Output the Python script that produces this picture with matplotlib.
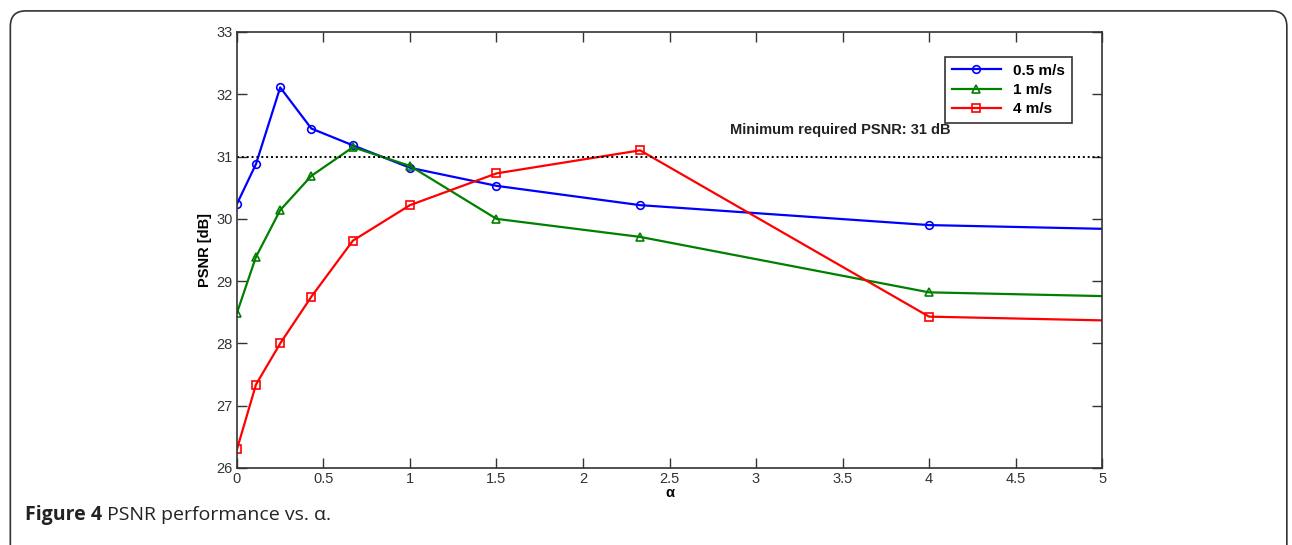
import matplotlib
matplotlib.use("Agg")
import matplotlib.pyplot as plt
from matplotlib.patches import FancyBboxPatch

# alpha values and PSNR for each speed
alpha = [0, 0.11, 0.25, 0.43, 0.67, 1.0, 1.5, 2.33, 4.0, 5.0]
psnr_05 = [30.24, 30.88, 32.11, 31.45, 31.18, 30.82, 30.53, 30.22, 29.90, 29.84]
psnr_1 = [28.49, 29.39, 30.14, 30.69, 31.15, 30.85, 30.00, 29.71, 28.82, 28.76]
psnr_4 = [26.30, 27.34, 28.00, 28.75, 29.65, 30.22, 30.73, 31.10, 28.43, 28.37]
labels = ["0.5 m/s", "1 m/s", "4 m/s"]
min_psnr = 31

xticks = [0, 0.5, 1, 1.5, 2, 2.5, 3, 3.5, 4, 4.5, 5]
yticks = [26, 27, 28, 29, 30, 31, 32, 33]

plt.rcParams['font.family'] = ['Liberation Sans', 'DejaVu Sans']

fig = plt.figure(figsize=(12.92, 5.45), dpi=100)
ax = fig.add_axes([0.1834, 0.1413, 0.853 - 0.1834, 0.9413 - 0.1413])

# outer rounded frame
frame = FancyBboxPatch((0.008, -0.05), 0.988, 1.03, transform=fig.transFigure,
                       boxstyle="round,pad=0,rounding_size=0.012",
                       fill=False, edgecolor="#333333", linewidth=1.2,
                       mutation_aspect=1292 / 545)
fig.patches.append(frame)

marks = list(range(len(alpha) - 1))
ax.plot(alpha, psnr_05, color="#0000ff", lw=1.6, marker="o", ms=5.5,
        mfc="none", mew=1.2, markevery=marks, label=labels[0])
ax.plot(alpha, psnr_1, color="#008000", lw=1.6, marker="^", ms=6,
        mfc="none", mew=1.2, markevery=marks, label=labels[1])
ax.plot(alpha, psnr_4, color="#ff0000", lw=1.6, marker="s", ms=5.5,
        mfc="none", mew=1.2, markevery=marks, label=labels[2])
ax.axhline(min_psnr, color="black", ls=(0, (1, 1.5)), lw=1.4)
ax.text(2.85, 31.43, "Minimum required PSNR: 31 dB", fontsize=10.5,
        fontweight="bold", color="#222222", va="center")

ax.set_xlim(0, 5)
ax.set_ylim(26, 33)
ax.set_xticks(xticks)
ax.set_xticklabels(["0", "0.5", "1", "1.5", "2", "2.5", "3", "3.5", "4", "4.5", "5"])
ax.set_yticks(yticks)
ax.tick_params(direction="in", length=7, width=1, top=True, right=True,
               labelsize=10.5, labelcolor="#333333", color="#333333", pad=3)
for s in ax.spines.values():
    s.set_linewidth(1.2)
    s.set_color("#333333")
ax.set_xlabel("α", fontsize=10.5, fontweight="bold", labelpad=0)
ax.set_ylabel("PSNR [dB]", fontsize=10.5, fontweight="bold", labelpad=3)

leg = ax.legend(loc="upper right", bbox_to_anchor=(0.965, 0.943), borderaxespad=0,
                frameon=True, fancybox=False, edgecolor="black",
                handlelength=3.2, borderpad=0.45, labelspacing=0.35,
                prop={"weight": "bold", "size": 11})
leg.get_frame().set_linewidth(1.2)

# caption
t1 = fig.text(0.019, 0.045, "Figure 4", fontsize=14, fontweight="bold",
              family="Open Sans", color="#222222", va="baseline")
fig.canvas.draw()
bb = t1.get_window_extent(fig.canvas.get_renderer())
fig.text(bb.x1 / fig.bbox.width, 0.045, " PSNR performance vs. α.", fontsize=14,
         family="Open Sans", color="#222222", va="baseline")

fig.savefig("out.png", dpi=100)
